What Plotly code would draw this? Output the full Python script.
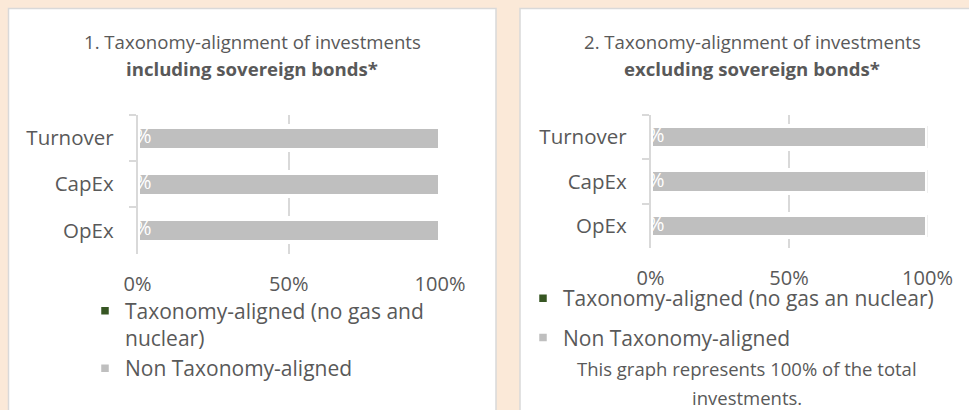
import plotly.graph_objects as go

# ---------------- data ----------------
categories = ["Turnover", "CapEx", "OpEx"]
aligned_incl = [0, 0, 0]            # Taxonomy-aligned (no gas and nuclear), % incl. sovereign bonds
non_aligned_incl = [100, 100, 100]  # Non Taxonomy-aligned, % incl. sovereign bonds
aligned_excl = [0, 0, 0]            # Taxonomy-aligned, % excl. sovereign bonds
non_aligned_excl = [100, 100, 100]  # Non Taxonomy-aligned, % excl. sovereign bonds
x_tick_vals = [0, 50, 100]
x_tick_text = ["0%", "50%", "100%"]
names_panel1 = ["Taxonomy-aligned (no gas and<br>nuclear)", "Non Taxonomy-aligned"]
names_panel2 = ["Taxonomy-aligned (no gas an nuclear)", "Non Taxonomy-aligned"]
title1 = ["1. Taxonomy-alignment of investments", "<b>including sovereign bonds*</b>"]
title2 = ["2. Taxonomy-alignment of investments", "<b>excluding sovereign bonds*</b>"]
note2 = ["This graph represents 100% of the total", "investments."]

# ---------------- style ----------------
W, H = 969, 410
FONT = "Open Sans"
TXT = "#595959"
BEIGE = "#FBE9D8"
BORDER = "#D9D9D9"
GREEN = "#375623"
GREY = "#BFBFBF"


def fx(px):
    return px / W


def fy(py):
    return 1 - py / H


fig = go.Figure()


def add_panel(aligned, non_aligned, names, xa, ya, legend):
    fig.add_trace(go.Bar(
        y=categories, x=aligned, orientation="h", name=names[0],
        marker=dict(color=GREEN, line=dict(color="white", width=4.5)),
        xaxis=xa, yaxis=ya, legend=legend, legendgroup=legend + "a",
        hoverinfo="skip"))
    fig.add_trace(go.Bar(
        y=categories, x=non_aligned, orientation="h", name=names[1],
        marker=dict(color=GREY, line=dict(color="white", width=4.5)),
        xaxis=xa, yaxis=ya, legend=legend, legendgroup=legend + "b",
        hoverinfo="skip"))
    # data labels of the (zero-width) aligned series
    fig.add_trace(go.Scatter(
        y=categories, x=aligned, mode="text",
        text=[f"{v:.0f}%" for v in aligned], textposition="middle center",
        textfont=dict(color="white", size=20, family=FONT),
        cliponaxis=False, showlegend=False, hoverinfo="skip",
        xaxis=xa, yaxis=ya))


add_panel(aligned_incl, non_aligned_incl, names_panel1, "x", "y", "legend")
add_panel(aligned_excl, non_aligned_excl, names_panel2, "x2", "y2", "legend2")

xaxis_common = dict(
    range=[0, 100], tickvals=x_tick_vals, ticktext=x_tick_text,
    showgrid=True, gridcolor=BORDER, gridwidth=1.5, zeroline=False,
    showline=False, ticks="", ticklabelstandoff=16, automargin=False,
    tickfont=dict(family=FONT, size=20, color=TXT), fixedrange=True)
yaxis_common = dict(
    type="category", categoryorder="array", categoryarray=categories,
    autorange="reversed", tickson="boundaries", ticks="outside", ticklen=7,
    tickcolor=BORDER, tickwidth=1.5, showline=True, linecolor=BORDER,
    linewidth=1.5, showgrid=False, zeroline=False, ticklabelstandoff=18,
    automargin=False,
    tickfont=dict(family=FONT, size=20.5, color=TXT), fixedrange=True)

fig.update_layout(
    width=W, height=H, margin=dict(l=0, r=0, t=0, b=0, pad=0),
    autosize=False,
    paper_bgcolor=BEIGE, plot_bgcolor="rgba(0,0,0,0)",
    barmode="stack", bargap=0.49,
    font=dict(family=FONT, color=TXT),
    xaxis=dict(domain=[fx(137.5), fx(440)], anchor="y", **xaxis_common),
    yaxis=dict(domain=[fy(253.5), fy(115)], anchor="x", **yaxis_common),
    xaxis2=dict(domain=[fx(650.5), fx(927.5)], anchor="y2", **xaxis_common),
    yaxis2=dict(domain=[fy(248), fy(115)], anchor="x2", **yaxis_common),
    legend=dict(x=fx(85), y=fy(290.5), xanchor="left", yanchor="top",
                bgcolor="rgba(0,0,0,0)", traceorder="grouped",
                tracegroupgap=0, valign="top",
                font=dict(family=FONT, size=21, color=TXT)),
    legend2=dict(x=fx(523), y=fy(278), xanchor="left", yanchor="top",
                 bgcolor="rgba(0,0,0,0)", traceorder="grouped",
                 tracegroupgap=9, valign="top",
                 font=dict(family=FONT, size=21, color=TXT)),
    shapes=[
        dict(type="rect", xref="paper", yref="paper", layer="below",
             x0=fx(8.5), x1=fx(496), y0=fy(420), y1=fy(8.5),
             fillcolor="white", line=dict(color=BORDER, width=1.5)),
        dict(type="rect", xref="paper", yref="paper", layer="below",
             x0=fx(520), x1=fx(980), y0=fy(420), y1=fy(8.5),
             fillcolor="white", line=dict(color=BORDER, width=1.5)),
    ],
)

annotations = []
for cx, lines in ((252, title1), (752, title2)):
    for txt, cy in zip(lines, (42, 68)):
        annotations.append(dict(
            text=txt, x=fx(cx), y=fy(cy), xref="paper", yref="paper",
            xanchor="center", yanchor="middle", showarrow=False,
            font=dict(family=FONT, size=18.6, color=TXT)))
for txt, cy in zip(note2, (368, 397)):
    annotations.append(dict(
        text=txt, x=fx(747), y=fy(cy), xref="paper", yref="paper",
        xanchor="center", yanchor="middle", showarrow=False,
        font=dict(family=FONT, size=18.5, color=TXT)))
fig.update_layout(annotations=annotations)

fig.write_html("out.html",
               config={"displayModeBar": False},
               post_script="document.body.style.margin='0px';"
                           "document.body.style.background='" + BEIGE + "';")
